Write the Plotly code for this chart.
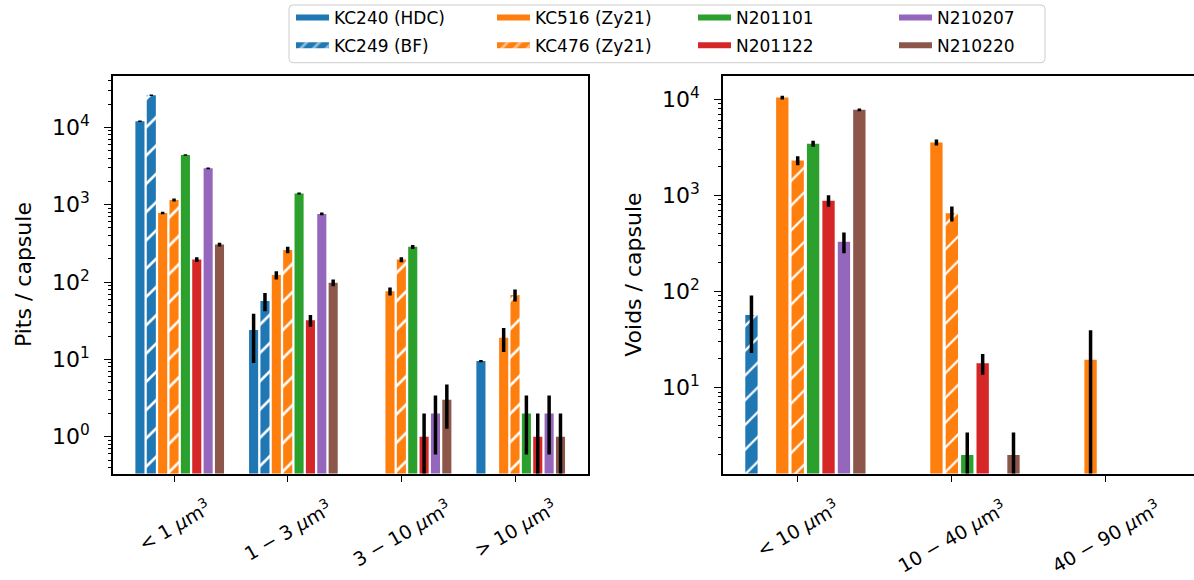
import re
import plotly.graph_objects as go

# ---------------- data ----------------
samples = ["KC240 (HDC)", "KC249 (BF)", "KC516 (Zy21)", "KC476 (Zy21)",
           "N201101", "N201122", "N210207", "N210220"]
colors = ["#1f77b4", "#1f77b4", "#ff7f0e", "#ff7f0e",
          "#2ca02c", "#d62728", "#9467bd", "#8c564b"]
hatched = [False, True, False, True, False, False, False, False]

pit_labels = ["&lt; 1 <i>μ</i>m<sup>3</sup>", "1 − 3 <i>μ</i>m<sup>3</sup>",
              "3 − 10 <i>μ</i>m<sup>3</sup>", "&gt; 10 <i>μ</i>m<sup>3</sup>"]
void_labels = ["&lt; 10 <i>μ</i>m<sup>3</sup>", "10 − 40 <i>μ</i>m<sup>3</sup>",
               "40 − 90 <i>μ</i>m<sup>3</sup>"]

pits_kc240 = [12000, 24, None, 9.5]
pits_kc249 = [26000, 57, None, None]
pits_kc516 = [780, 123, 76, 19]
pits_kc476 = [1150, 260, 195, 68]
pits_n201101 = [4400, 1400, 285, 2]
pits_n201122 = [195, 32, 1, 1]
pits_n210207 = [2950, 760, 2, 2]
pits_n210220 = [305, 98, 3, 1]

pits_err_kc240 = [300, 15, None, 0.3]
pits_err_kc249 = [600, 15, None, None]
pits_err_kc516 = [30, 15, 9, 6.5]
pits_err_kc476 = [50, 25, 15, 12]
pits_err_n201101 = [100, 40, 17, 1.41]
pits_err_n201122 = [14, 5.6, 1, 1]
pits_err_n210207 = [80, 30, 1.41, 1.41]
pits_err_n210220 = [17, 10, 1.73, 1]

voids_kc240 = [None, None, None]
voids_kc249 = [57, None, None]
voids_kc516 = [10400, 3550, 19.5]
voids_kc476 = [2300, 650, None]
voids_n201101 = [3450, 2, None]
voids_n201122 = [880, 18, None]
voids_n210207 = [330, None, None]
voids_n210220 = [7750, 2, None]

voids_err_kc240 = [None, None, None]
voids_err_kc249 = [34, None, None]
voids_err_kc516 = [450, 250, 20]
voids_err_kc476 = [250, 115, None]
voids_err_n201101 = [250, 1.41, None]
voids_err_n201122 = [120, 4.4, None]
voids_err_n210207 = [80, None, None]
voids_err_n210220 = [250, 1.41, None]

pits = [pits_kc240, pits_kc249, pits_kc516, pits_kc476,
        pits_n201101, pits_n201122, pits_n210207, pits_n210220]
pits_err = [pits_err_kc240, pits_err_kc249, pits_err_kc516, pits_err_kc476,
            pits_err_n201101, pits_err_n201122, pits_err_n210207, pits_err_n210220]
voids = [voids_kc240, voids_kc249, voids_kc516, voids_kc476,
         voids_n201101, voids_n201122, voids_n210207, voids_n210220]
voids_err = [voids_err_kc240, voids_err_kc249, voids_err_kc516, voids_err_kc476,
             voids_err_n201101, voids_err_n201122, voids_err_n210207, voids_err_n210220]

# ---------------- style ----------------
pit_offsets = [-0.3, -0.2, -0.1, 0.0, 0.1, 0.2, 0.3, 0.4]
void_offsets = [-0.4, -0.3, -0.1, 0.0, 0.1, 0.2, 0.3, 0.4]
BAR_W = 0.08
FONT = "DejaVu Sans"
W, H = 1194, 580
TICK_FS = 22
TITLE_FS = 22
XLAB_FS = 19

fig = go.Figure()


def add_panel(values, errors, offsets, ncat, xa, ya, hatch_size):
    for i, name in enumerate(samples):
        xs = [c + offsets[i] for c in range(ncat)]
        pattern = (dict(shape="/", fgcolor="white", fgopacity=1, size=hatch_size, solidity=0.13)
                   if hatched[i] else dict(shape=""))
        fig.add_trace(go.Bar(
            x=xs, y=values[i], width=BAR_W, xaxis=xa, yaxis=ya,
            marker=dict(color=colors[i], line=dict(width=0), pattern=pattern),
            error_y=dict(type="data", array=errors[i], visible=True, color="black",
                         thickness=3.5, width=0),
            showlegend=False, name=name,
        ))


add_panel(pits, pits_err, pit_offsets, 4, "x", "y", 20)
add_panel(voids, voids_err, void_offsets, 3, "x2", "y2", 17.5)

# legend entries (column-major layout: two rows)
row_of = [0, 1, 0, 1, 0, 1, 0, 1]
for i, name in enumerate(samples):
    kw = dict(fillpattern=dict(shape="/", fgcolor="white", size=9, solidity=0.3)) if hatched[i] else {}
    fig.add_trace(go.Scatter(
        x=[None], y=[None], mode="none", fill="toself", fillcolor=colors[i],
        name=name, xaxis="x", yaxis="y",
        legend="legend" if row_of[i] == 0 else "legend2", **kw))

ydom = [107 / H, 507 / H]
axis_common = dict(showline=True, linecolor="black", linewidth=1.5,
                   ticks="outside", ticklen=7, tickwidth=1.3, tickcolor="black",
                   showgrid=False, zeroline=False)

pit_yticks = [1, 10, 100, 1000, 10000]
void_yticks = [10, 100, 1000, 10000]
tick_text = {1: "10<sup>0</sup>", 10: "10<sup>1</sup>", 100: "10<sup>2</sup>",
             1000: "10<sup>3</sup>", 10000: "10<sup>4</sup>"}


def minor_vals(lo, hi):
    out = []
    for d in range(lo, hi):
        for m in range(2, 10):
            out.append(m * 10 ** d)
    return out


minor_common = dict(tickmode="array", ticks="outside", ticklen=3.5, tickwidth=1,
                    tickcolor="black", showgrid=False)

fig.update_layout(
    width=W, height=H, margin=dict(l=0, r=0, t=0, b=0),
    paper_bgcolor="white", plot_bgcolor="white",
    font=dict(family=FONT, size=19, color="black"),
    barmode="overlay",
    xaxis=dict(domain=[113 / W, 588 / W], range=[-0.537, 3.642], mirror=True,
               tickmode="array", tickvals=[0, 1, 2, 3], showticklabels=False,
               **axis_common),
    yaxis=dict(domain=ydom, type="log", range=[-0.476, 4.669], mirror=True,
               tickmode="array", tickvals=pit_yticks,
               ticktext=[tick_text[v] for v in pit_yticks],
               minor=dict(tickvals=minor_vals(-1, 5), **minor_common),
               ticklabelstandoff=10,
               title=dict(text="Pits / capsule", standoff=14,
                          font=dict(size=TITLE_FS, family=FONT)),
               tickfont=dict(size=TICK_FS, family=FONT), **axis_common),
    xaxis2=dict(domain=[723 / W, 1.0], range=[-0.4846, 2.571], mirror=True,
                anchor="y2", tickmode="array", tickvals=[0, 1, 2], showticklabels=False,
                **axis_common),
    yaxis2=dict(domain=ydom, type="log", range=[0.107, 4.245], anchor="x2",
                tickmode="array", tickvals=void_yticks,
                ticktext=[tick_text[v] for v in void_yticks],
                minor=dict(tickvals=minor_vals(0, 5), **minor_common),
                ticklabelstandoff=10,
                title=dict(text="Voids / capsule", standoff=14,
                           font=dict(size=TITLE_FS, family=FONT)),
                tickfont=dict(size=TICK_FS, family=FONT), **axis_common),
    legend=dict(orientation="h", x=291 / W, y=1 - 15 / H, xanchor="left", yanchor="middle",
                entrywidth=153, entrywidthmode="pixels", itemwidth=33,
                font=dict(size=17, family=FONT), bgcolor="rgba(0,0,0,0)", borderwidth=0),
    legend2=dict(orientation="h", x=291 / W, y=1 - 43 / H, xanchor="left", yanchor="middle",
                 entrywidth=153, entrywidthmode="pixels", itemwidth=33,
                 font=dict(size=17, family=FONT), bgcolor="rgba(0,0,0,0)", borderwidth=0),
)

# legend frame (rounded)
x0, x1, y0, y1 = 289, 1045, 2, 60
r = 4
path = (f"M{x0 + r},{y0} L{x1 - r},{y0} Q{x1},{y0} {x1},{y0 + r} "
        f"L{x1},{y1 - r} Q{x1},{y1} {x1 - r},{y1} L{x0 + r},{y1} "
        f"Q{x0},{y1} {x0},{y1 - r} L{x0},{y0 + r} Q{x0},{y0} {x0 + r},{y0} Z")


def to_paper(p):
    def conv(m):
        x, y = float(m.group(1)), float(m.group(2))
        return f"{x / W:.6f},{1 - y / H:.6f}"
    return re.sub(r"([\d.]+),([\d.]+)", conv, p)


fig.add_shape(type="path", path=to_paper(path), xref="paper", yref="paper",
              line=dict(color="#cccccc", width=1), fillcolor="rgba(255,255,255,0.8)",
              layer="below")

# rotated category labels
lab_y = 1 - 492 / H
for i, t in enumerate(pit_labels):
    fig.add_annotation(x=i, y=lab_y, xref="x", yref="paper", text=t, textangle=-30,
                       showarrow=False, xanchor="center", yanchor="top",
                       font=dict(size=XLAB_FS, family=FONT))
for i, t in enumerate(void_labels):
    fig.add_annotation(x=i, y=lab_y, xref="x2", yref="paper", text=t, textangle=-30,
                       showarrow=False, xanchor="center", yanchor="top",
                       font=dict(size=XLAB_FS, family=FONT))

fig.write_html("out.html")
